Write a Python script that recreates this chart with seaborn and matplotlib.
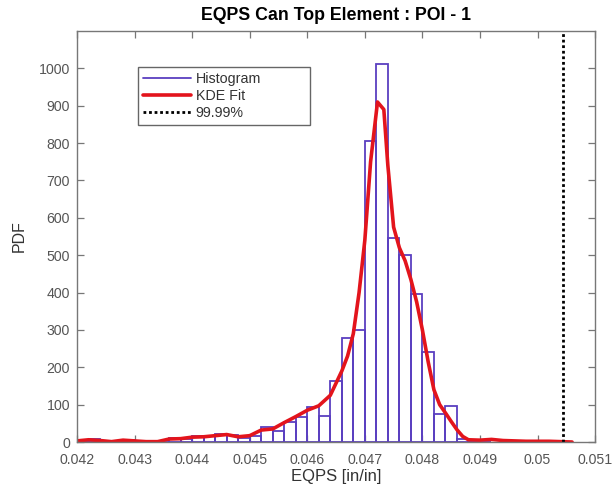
import numpy as np
import pandas as pd
import matplotlib
matplotlib.use("Agg")
import matplotlib.pyplot as plt
from matplotlib.lines import Line2D
import seaborn as sns

# Histogram of EQPS samples (bin left edges, bin width 0.0002, PDF heights)
bin_left = [0.0420, 0.0422, 0.0424, 0.0426, 0.0428, 0.0430, 0.0432, 0.0434,
            0.0436, 0.0438, 0.0440, 0.0442, 0.0444, 0.0446, 0.0448, 0.0450,
            0.0452, 0.0454, 0.0456, 0.0458, 0.0460, 0.0462, 0.0464, 0.0466,
            0.0468, 0.0470, 0.0472, 0.0474, 0.0476, 0.0478, 0.0480, 0.0482,
            0.0484, 0.0486, 0.0488, 0.0490]
pdf_values = [4, 7, 2, 1, 6, 3, 0, 1,
              12, 7, 17, 15, 22, 18, 11, 16,
              40, 30, 54, 68, 95, 70, 163, 279,
              299, 805, 1013, 545, 501, 396, 242, 75,
              97, 9, 2, 1]
bin_width = 0.0002

# Kernel density fit evaluated along EQPS
kde_x = [0.0420, 0.0422, 0.0424, 0.0426, 0.0428, 0.0430, 0.0432, 0.0434,
         0.0436, 0.0438, 0.0440, 0.0442, 0.0444, 0.0446, 0.0448, 0.0450,
         0.0452, 0.0454, 0.0456, 0.0458, 0.0460, 0.0462, 0.0464, 0.0466,
         0.0467, 0.0468, 0.0469, 0.0470, 0.0471, 0.04722, 0.04733, 0.0474,
         0.0475, 0.0476, 0.0477, 0.0478, 0.0479, 0.0480, 0.0481, 0.0482,
         0.0483, 0.0484, 0.0485, 0.0486, 0.0487, 0.0488, 0.0490, 0.0492,
         0.0494, 0.0496, 0.0498, 0.0500, 0.0502, 0.0504, 0.0506]
kde_y = [3, 6, 4, 1, 5, 3, 1, 1,
         8, 9, 13, 14, 17, 20, 14, 17,
         32, 35, 52, 68, 85, 97, 125, 190,
         230, 290, 400, 540, 750, 910, 890, 740,
         575, 520, 485, 435, 375, 300, 215, 140,
         100, 78, 55, 33, 15, 6, 5, 7,
         4, 3, 2, 2, 2, 1, 0]

# 99.99% quantile of EQPS
p9999 = 0.05045

x_ticks = [0.042, 0.043, 0.044, 0.045, 0.046, 0.047, 0.048, 0.049, 0.050, 0.051]
x_tick_labels = ["0.042", "0.043", "0.044", "0.045", "0.046", "0.047",
                 "0.048", "0.049", "0.05", "0.051"]
y_ticks = [0, 100, 200, 300, 400, 500, 600, 700, 800, 900, 1000]

hist_color = "#5a3fc0"
kde_color = "#e3141c"

sns.set_theme(style="white")
plt.rcParams["font.family"] = ["Liberation Sans", "DejaVu Sans"]

fig = plt.figure(figsize=(6.13, 4.93), dpi=100)
ax = fig.add_axes([0.1256, 0.1034, 0.8452, 0.8337])

edges = list(bin_left) + [bin_left[-1] + bin_width]
centers = [b + bin_width / 2 for b in bin_left]
hist_df = pd.DataFrame({"eqps": centers, "pdf": pdf_values})
sns.histplot(data=hist_df, x="eqps", weights="pdf", bins=edges,
             fill=False, element="bars", color=hist_color,
             linewidth=1.3, ax=ax)

kde_df = pd.DataFrame({"eqps": kde_x, "pdf": kde_y})
sns.lineplot(data=kde_df, x="eqps", y="pdf", color=kde_color,
             linewidth=2.6, ax=ax)

ax.axvline(p9999, color="black", linestyle=(0, (1, 1)), linewidth=2.0)

ax.set_xlim(0.042, 0.051)
ax.set_ylim(0, 1100)
ax.set_xticks(x_ticks)
ax.set_xticklabels(x_tick_labels)
ax.set_yticks(y_ticks)

for side in ["top", "bottom", "left", "right"]:
    ax.spines[side].set_visible(True)
    ax.spines[side].set_color("#777777")
    ax.spines[side].set_linewidth(1.0)
ax.tick_params(axis="both", which="both", direction="in", length=5,
               width=0.9, color="#777777", labelcolor="#555555",
               labelsize=10.2, top=True, right=True, bottom=True, left=True)
ax.tick_params(axis="x", pad=8)
ax.tick_params(axis="y", pad=5)

ax.set_xlabel("EQPS [in/in]", fontsize=12, color="#333333", labelpad=1)
ax.set_ylabel("PDF", fontsize=11.5, color="#333333", labelpad=9)
ax.set_title("EQPS Can Top Element : POI - 1", fontsize=12.8,
             fontweight="bold", color="black", pad=8)

handles = [
    Line2D([], [], color=hist_color, linewidth=1.3, label="Histogram"),
    Line2D([], [], color=kde_color, linewidth=2.6, label="KDE Fit"),
    Line2D([], [], color="black", linewidth=2.0, linestyle=(0, (1, 1)),
           label="99.99%"),
]
leg = ax.legend(handles=handles, loc="upper left", mode="expand",
                bbox_to_anchor=(0.117, 0.912, 0.333, 0.0), fontsize=10.3,
                frameon=True, fancybox=False, framealpha=1,
                edgecolor="#666666", handlelength=3.4, handletextpad=0.3,
                labelspacing=0.2, borderpad=0.35, borderaxespad=0)
leg.get_frame().set_linewidth(1.0)
for t in leg.get_texts():
    t.set_color("#333333")

fig.savefig("out.png", dpi=100, facecolor="white")
